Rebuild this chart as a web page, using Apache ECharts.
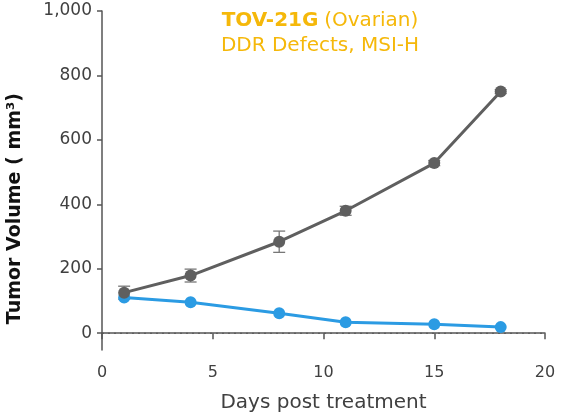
<!DOCTYPE html>
<html>
<head>
<meta charset="utf-8">
<script src="https://cdn.jsdelivr.net/npm/echarts@6/dist/echarts.min.js"></script>
<style>
  html, body { margin: 0; padding: 0; background: #fff; }
  #main { width: 565px; height: 418px; }
</style>
</head>
<body>
<div id="main"></div>
<script>
var days = [1, 4, 8, 11, 15, 18];
var controlVals = [126, 179, 284, 380, 528, 750];
var controlErr = [20, 20, 33, 14, 8, 6];
var treatedVals = [111, 96, 62, 34, 28, 19];
var yTicks = [0, 200, 400, 600, 800, 1000];

var gray = '#5f5f5f';
var blue = '#2b9be3';
var txt = '#404040';
var font = 'DejaVu Sans';

var myChart = echarts.init(document.getElementById('main'));

function pairs(xs, ys) {
  return xs.map(function (x, i) { return [x, ys[i]]; });
}

var errData = days.map(function (d, i) {
  return [d, controlVals[i] - controlErr[i], controlVals[i] + controlErr[i]];
});

var option = {
  backgroundColor: '#fff',
  animation: false,
  textStyle: { fontFamily: font },
  title: {
    text: '{b|TOV-21G} {n|(Ovarian)}\n{n|DDR Defects, MSI-H}',
    left: 315,
    top: 3,
    textAlign: 'center',
    textStyle: {
      fontWeight: 'normal',
      rich: {
        b: { fontFamily: font, fontWeight: 'bold', fontSize: 20, color: '#f5b80a', lineHeight: 25 },
        n: { fontFamily: font, fontWeight: 'normal', fontSize: 20, color: '#f5b80a', lineHeight: 25 }
      }
    }
  },
  grid: { left: 102, right: 20, top: 11, bottom: 66 },
  xAxis: {
    type: 'value',
    min: 0, max: 20, interval: 5,
    name: 'Days post treatment',
    nameLocation: 'middle',
    nameGap: 43,
    nameTextStyle: { fontFamily: font, fontSize: 20, color: txt },
    axisLine: { lineStyle: { color: '#555', width: 1.5 } },
    axisTick: { length: 6, lineStyle: { color: '#555', width: 1.5 } },
    axisLabel: { fontFamily: font, fontSize: 16, color: txt, margin: 15 },
    splitLine: { show: false }
  },
  yAxis: {
    type: 'value',
    min: -52, max: 1000,
    axisLine: { show: true, lineStyle: { color: '#555', width: 1.5 } },
    axisTick: { show: true, length: 5, customValues: yTicks, lineStyle: { color: '#555', width: 1.5 } },
    axisLabel: {
      fontFamily: font, fontSize: 17, color: txt, margin: 10,
      customValues: yTicks,
      formatter: function (v) { return v >= 1000 ? '1,000' : String(v); }
    },
    splitLine: { show: false }
  },
  graphic: [{
    type: 'text',
    left: 6,
    top: 93,
    rotation: Math.PI / 2,
    style: {
      text: 'Tumor Volume ( mm³)',
      fontFamily: font,
      fontWeight: 'bold',
      fontSize: 19,
      fill: '#111'
    }
  }],
  series: [
    {
      type: 'line',
      data: [[0, 0], [20, 0]],
      symbol: 'none',
      silent: true,
      lineStyle: { color: '#555', width: 1.2, type: [2, 4] },
      z: 1
    },
    {
      type: 'custom',
      data: errData,
      z: 3,
      renderItem: function (params, api) {
        var x = api.value(0);
        var lo = api.coord([x, api.value(1)]);
        var hi = api.coord([x, api.value(2)]);
        var w = 6;
        var st = { stroke: '#777', lineWidth: 1.3 };
        return {
          type: 'group',
          children: [
            { type: 'line', shape: { x1: lo[0], y1: lo[1], x2: hi[0], y2: hi[1] }, style: st },
            { type: 'line', shape: { x1: lo[0] - w, y1: lo[1], x2: lo[0] + w, y2: lo[1] }, style: st },
            { type: 'line', shape: { x1: hi[0] - w, y1: hi[1], x2: hi[0] + w, y2: hi[1] }, style: st }
          ]
        };
      }
    },
    {
      type: 'line',
      data: pairs(days, treatedVals),
      symbol: 'circle',
      symbolSize: 12,
      itemStyle: { color: blue },
      lineStyle: { color: blue, width: 3 },
      z: 4
    },
    {
      type: 'line',
      data: pairs(days, controlVals),
      symbol: 'circle',
      symbolSize: 12,
      itemStyle: { color: gray },
      lineStyle: { color: gray, width: 3 },
      z: 5
    }
  ]
};
myChart.setOption(option);
</script>
</body>
</html>
